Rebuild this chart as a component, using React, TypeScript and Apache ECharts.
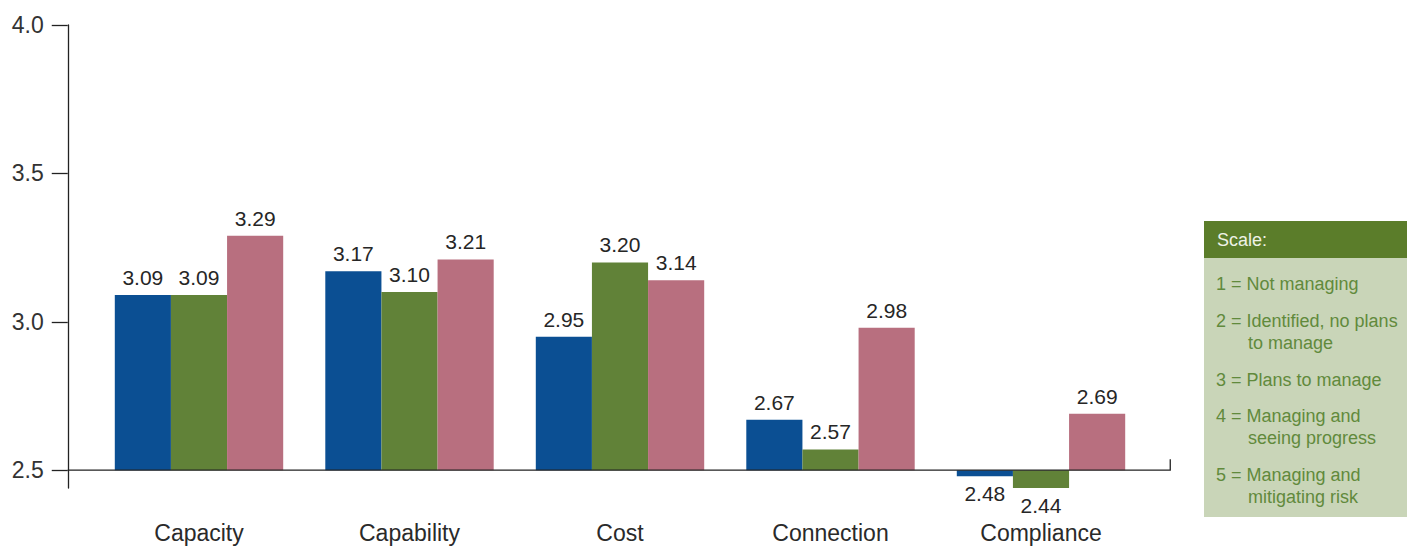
import React, { useEffect, useRef } from 'react';
import * as echarts from 'echarts';

const categories = ['Capacity', 'Capability', 'Cost', 'Connection', 'Compliance'];
const seriesA = [3.09, 3.17, 2.95, 2.67, 2.48];
const seriesB = [3.09, 3.10, 3.20, 2.57, 2.44];
const seriesC = [3.29, 3.21, 3.14, 2.98, 2.69];
const yTicks = [2.5, 3.0, 3.5, 4.0];
const baseValue = 2.5;
const axisMin = 2.44;
const axisMax = 4.0;
const scaleTitle = 'Scale:';
const scaleItems: string[][] = [
  ['1 = Not managing'],
  ['2 = Identified, no plans', 'to manage'],
  ['3 = Plans to manage'],
  ['4 = Managing and', 'seeing progress'],
  ['5 = Managing and', 'mitigating risk'],
];

const COLORS = ['#0b4f93', '#618238', '#b86f7f'];
const FONT = '"Liberation Sans", Arial, sans-serif';
const GRID_LEFT = 93.75;
const GRID_WIDTH = 1052.5;
const GRID_TOP = 25;
const GRID_HEIGHT = 463;
const AXIS_OFFSET = 26;

function makeData(vals: number[]) {
  return vals.map((v) => ({
    value: v,
    label: { position: v < baseValue ? 'bottom' : 'top' },
  }));
}

export default function App() {
  const ref = useRef<HTMLDivElement>(null);
  useEffect(() => {
    if (!ref.current) return;
    const chart = echarts.init(ref.current, null, { renderer: 'svg' });
    const labelCfg = {
      show: true,
      fontSize: 21,
      fontFamily: FONT,
      color: '#262626',
      distance: 7,
      formatter: (p: any) => Number(p.value).toFixed(2),
    };
    const mk = (name: string, vals: number[], color: string) => ({
      name,
      type: 'bar',
      data: makeData(vals),
      itemStyle: { color },
      barGap: '0%',
      barCategoryGap: '20%',
      label: labelCfg,
      clip: false,
    });
    chart.setOption({
      animation: false,
      textStyle: { fontFamily: FONT },
      grid: {
        left: GRID_LEFT,
        top: GRID_TOP,
        width: GRID_WIDTH,
        height: GRID_HEIGHT,
        containLabel: false,
        outerBoundsMode: 'none',
      },
      xAxis: {
        type: 'category',
        data: categories,
        axisLine: { show: false },
        axisTick: { show: false },
        splitLine: { show: false },
        axisLabel: { fontSize: 23, color: '#2a2a2a', margin: 33, fontFamily: FONT },
      },
      yAxis: {
        type: 'value',
        min: axisMin,
        max: axisMax,
        startValue: baseValue,
        offset: AXIS_OFFSET,
        splitLine: { show: false },
        axisLine: { show: true, lineStyle: { color: '#222', width: 1.3 } },
        axisTick: {
          show: true,
          inside: false,
          length: 16,
          customValues: yTicks,
          lineStyle: { color: '#222', width: 1.3 },
        },
        axisLabel: {
          customValues: yTicks,
          formatter: (v: number) => v.toFixed(1),
          fontSize: 23,
          color: '#333',
          margin: 24,
          fontFamily: FONT,
        },
      },
      series: [mk('A', seriesA, COLORS[0]), mk('B', seriesB, COLORS[1]), mk('C', seriesC, COLORS[2])],
    });

    const yBase = chart.convertToPixel({ yAxisIndex: 0 }, baseValue) as number;
    const x0 = GRID_LEFT - AXIS_OFFSET;
    const x1 = GRID_LEFT + GRID_WIDTH + 24;

    const graphics: any[] = [
      {
        type: 'polyline',
        shape: { points: [[x0, yBase], [x1, yBase], [x1, yBase - 11]] },
        style: { stroke: '#222', lineWidth: 1.3, fill: null },
        z: 10,
      },
      {
        type: 'rect',
        shape: { x: 1204, y: 221, width: 203, height: 37 },
        style: { fill: '#5b7d2a' },
      },
      {
        type: 'rect',
        shape: { x: 1204, y: 258, width: 203, height: 259 },
        style: { fill: '#c9d5b8' },
      },
      {
        type: 'text',
        x: 1217,
        y: 240,
        style: { text: scaleTitle, fill: '#eef2e6', fontSize: 18, fontFamily: FONT, verticalAlign: 'middle' },
      },
    ];
    const itemY = [284, 321, 380, 416, 475];
    scaleItems.forEach((lines, i) => {
      lines.forEach((ln, j) => {
        graphics.push({
          type: 'text',
          x: j === 0 ? 1216 : 1248,
          y: itemY[i] + j * 22,
          style: { text: ln, fill: '#618a3c', fontSize: 18, fontFamily: FONT, verticalAlign: 'middle' },
        });
      });
    });
    chart.setOption({ graphic: graphics });

    return () => chart.dispose();
  }, []);
  return (
    <div
      ref={ref}
      style={{ position: 'fixed', left: 0, top: 0, width: 1407, height: 546, background: '#fff' }}
    />
  );
}
